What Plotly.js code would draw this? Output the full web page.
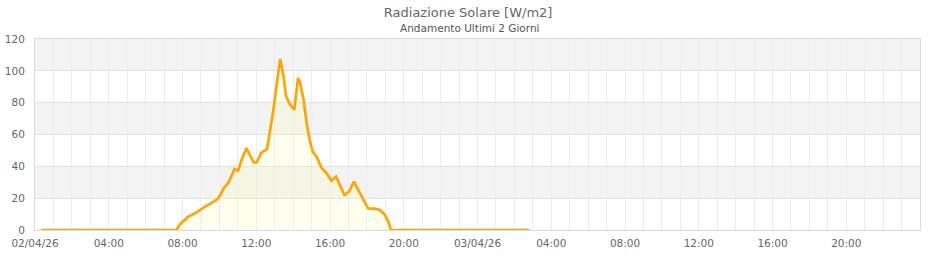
<!DOCTYPE html>
<html><head><meta charset="utf-8">
<script src="https://cdn.plot.ly/plotly-3.0.1.min.js"></script>
<style>html,body{margin:0;padding:0;background:#fff}#chart{width:940px;height:260px}</style>
</head><body><div id="chart"></div>
<script>
const times = [
  "2026-04-02 00:20","2026-04-02 07:40","2026-04-02 07:53","2026-04-02 08:19","2026-04-02 08:37",
  "2026-04-02 08:58","2026-04-02 09:14","2026-04-02 09:36","2026-04-02 09:53","2026-04-02 10:03",
  "2026-04-02 10:14","2026-04-02 10:30","2026-04-02 10:41","2026-04-02 10:49","2026-04-02 11:01",
  "2026-04-02 11:14","2026-04-02 11:28","2026-04-02 11:41","2026-04-02 11:52","2026-04-02 12:02",
  "2026-04-02 12:16","2026-04-02 12:35","2026-04-02 12:46","2026-04-02 12:56","2026-04-02 13:07",
  "2026-04-02 13:18","2026-04-02 13:29","2026-04-02 13:37","2026-04-02 13:50","2026-04-02 14:04",
  "2026-04-02 14:09","2026-04-02 14:16","2026-04-02 14:23","2026-04-02 14:34","2026-04-02 14:44",
  "2026-04-02 14:55","2026-04-02 15:04","2026-04-02 15:17","2026-04-02 15:33","2026-04-02 15:49",
  "2026-04-02 16:04","2026-04-02 16:20","2026-04-02 16:32","2026-04-02 16:47","2026-04-02 17:02",
  "2026-04-02 17:18","2026-04-02 17:35","2026-04-02 17:52","2026-04-02 18:04","2026-04-02 18:26",
  "2026-04-02 18:43","2026-04-02 18:59","2026-04-02 19:10","2026-04-02 19:18","2026-04-03 02:49"
];
const radiation = [
  0, 0, 3.8, 8.4, 10,
  13, 14.7, 17.2, 19.3, 22,
  26.2, 29.8, 34.6, 38.2, 37.3,
  45, 51.4, 46.1, 42.4, 42.4,
  48.5, 50.8, 62.9, 75.5, 92.3,
  107.4, 96.5, 83.9, 78.7, 75.5,
  83.9, 95.5, 92.3, 81.8, 67.1,
  55.6, 49, 46.1, 38.8, 35.7,
  31, 33.5, 28.3, 22, 24.1,
  30.4, 24.1, 18.4, 13.6, 13.4,
  12.6, 9.4, 5.2, 0, 0
];
const tickTimes = [
  "2026-04-02 00:00","2026-04-02 04:00","2026-04-02 08:00","2026-04-02 12:00","2026-04-02 16:00","2026-04-02 20:00",
  "2026-04-03 00:00","2026-04-03 04:00","2026-04-03 08:00","2026-04-03 12:00","2026-04-03 16:00","2026-04-03 20:00"
];
const tickLabels = ["02/04/26","04:00","08:00","12:00","16:00","20:00","03/04/26","04:00","08:00","12:00","16:00","20:00"];
const yTicks = [0,20,40,60,80,100,120];
const xRange = ["2026-04-02 00:00","2026-04-04 00:00"];
const titleText = "Radiazione Solare [W/m2]";
const subtitleText = "Andamento Ultimi 2 Giorni";

const bands = [];
for (let i = 1; i < yTicks.length; i += 2) {
  bands.push({type:'rect', xref:'paper', yref:'y', x0:0, x1:1, y0:yTicks[i], y1:yTicks[i+1],
    fillcolor:'#f3f3f3', line:{width:0}, layer:'below'});
}

const trace = {
  x: times, y: radiation, type:'scatter', mode:'lines',
  line:{color:'#FFA500', width:2.7},
  fill:'tozeroy', fillcolor:'rgba(255,255,170,0.2)',
  hoverinfo:'skip'
};

const layout = {
  width:940, height:260,
  margin:{l:35, r:20, t:39, b:30, pad:0},
  paper_bgcolor:'#ffffff', plot_bgcolor:'rgba(0,0,0,0)',
  font:{family:'"DejaVu Sans", Verdana, sans-serif', color:'#666666', size:10.5},
  showlegend:false,
  title:{text:titleText, x:0.498, xref:'container', xanchor:'center', y:1-12/260, yref:'container', yanchor:'middle',
    font:{size:13, color:'#666666', family:'"DejaVu Sans", sans-serif'}},
  annotations:[{text:subtitleText, xref:'paper', yref:'paper', x:(469-35)/885, y:1+(39-27.5)/191,
    xanchor:'center', yanchor:'middle', showarrow:false,
    font:{size:10.5, color:'#555555', family:'"DejaVu Sans", sans-serif'}}],
  shapes: bands,
  xaxis:{type:'date', range:xRange, tickmode:'array', tickvals:tickTimes, ticktext:tickLabels,
    showgrid:true, gridcolor:'#ececf8', gridwidth:1,
    minor:{dtick:3600000, tick0:'2026-04-02 00:00', showgrid:true, gridcolor:'#ececf8', gridwidth:1},
    showline:true, mirror:true, linecolor:'#dadada', linewidth:1,
    ticks:'', zeroline:false, ticklabelstandoff:3, tickfont:{size:10.5, color:'#666666'}, fixedrange:true},
  yaxis:{range:[0,120], tickmode:'array', tickvals:yTicks, showgrid:true, gridcolor:'#e0e0e0', gridwidth:1,
    showline:true, mirror:true, linecolor:'#dadada', linewidth:1,
    ticks:'', zeroline:false, ticklabelstandoff:7, tickfont:{size:10.5, color:'#666666'}, fixedrange:true}
};

Plotly.newPlot('chart', [trace], layout, {displayModeBar:false, staticPlot:true});
</script>
</body></html>
